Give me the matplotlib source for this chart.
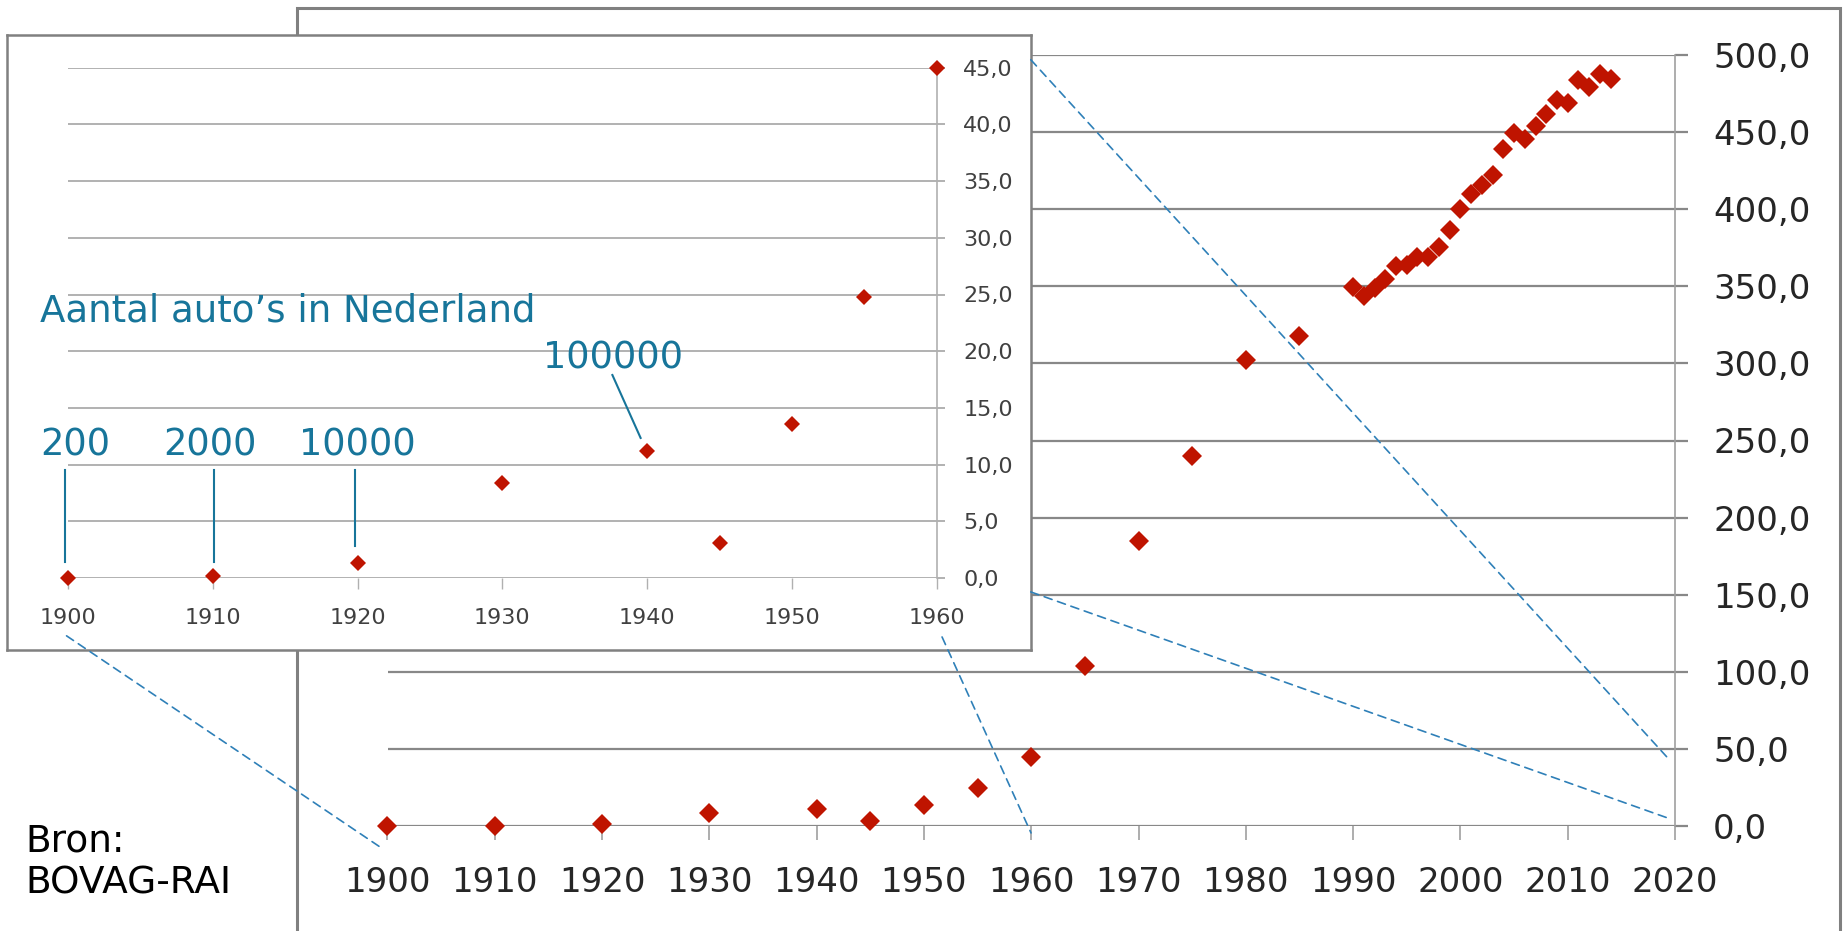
import matplotlib
matplotlib.use("Agg")
import matplotlib.pyplot as plt
from matplotlib.patches import Rectangle, ConnectionPatch

# ---------------- data (x 10 000 auto's) ----------------
years_hist = [1900, 1910, 1920, 1930, 1940, 1945, 1950, 1955, 1960,
              1965, 1970, 1975, 1980, 1985]
cars_hist = [0.02, 0.2, 1.3, 8.4, 11.2, 3.1, 13.6, 24.8, 45.0,
             103.5, 185.0, 240.0, 302.0, 318.0]
years_recent = list(range(1990, 2015))
cars_recent = [349.6, 344.0, 349.0, 355.0, 363.0, 363.7, 369.0, 368.7, 375.7,
               386.5, 400.0, 410.0, 416.0, 422.0, 439.0, 449.6, 445.6, 454.0,
               461.5, 471.0, 469.0, 484.0, 479.0, 487.8, 484.5]

main_xticks = list(range(1900, 2021, 10))
main_yticks = list(range(0, 501, 50))
inset_xticks = [1900, 1910, 1920, 1930, 1940, 1950, 1960]
inset_yticks = list(range(0, 46, 5))

title_text = "Aantal auto\u2019s in Nederland"
note_labels = ["200", "2000", "10000", "100000"]
source_text = "Bron:\nBOVAG-RAI"

# ---------------- style ----------------
W, H = 1845, 931
RED = "#BF1400"
TEAL = "#17759A"
GRID = "#888888"
DASH = "#2F80B8"
plt.rcParams["font.family"] = ["DejaVu Sans"]


def fx(px):
    return px / W


def fy(py):
    return 1 - py / H


def fmt(v):
    return f"{v:.1f}".replace(".", ",")


fig = plt.figure(figsize=(W / 100, H / 100), dpi=100)

# outer frame of the main chart (bottom edge off-canvas)
fig.add_artist(Rectangle((fx(297), -0.05), fx(1840) - fx(297), fy(8) + 0.05,
                         transform=fig.transFigure, fill=False,
                         ec="#808080", lw=2.2, zorder=0))

# ---------------- main chart ----------------
ax = fig.add_axes([fx(387.5), fy(826), fx(1675) - fx(387.5), fy(55) - fy(826)])
ax.set_zorder(1)
ax.set_facecolor("none")
ax.set_xlim(1900, 2020)
ax.set_ylim(0, 500)
all_years = years_hist + years_recent
all_cars = cars_hist + cars_recent
ax.plot(all_years, all_cars, linestyle="none", marker="D", ms=10.6,
        color=RED, mec=RED, mew=0, clip_on=False, zorder=3)
ax.set_xticks(main_xticks)
ax.set_xticklabels([str(y) for y in main_xticks])
ax.set_yticks(main_yticks)
ax.set_yticklabels([fmt(v) for v in main_yticks])
ax.yaxis.tick_right()
ax.yaxis.grid(True, color=GRID, lw=1.6)
ax.set_axisbelow(True)
for s in ["left", "top", "bottom"]:
    ax.spines[s].set_visible(False)
ax.spines["right"].set_color("#a0a0a0")
ax.spines["right"].set_linewidth(1.2)
ax.tick_params(axis="x", direction="out", length=10, width=1.2, color="#a0a0a0",
               pad=19, labelsize=24.5, labelcolor="#262626")
ax.tick_params(axis="y", direction="out", length=9.5, width=1.6, color=GRID,
               pad=18, labelsize=24.5, labelcolor="#262626")

# ---------------- inset ----------------
axf = fig.add_axes([fx(7), fy(650), fx(1031) - fx(7), fy(35) - fy(650)])
axf.set_zorder(2)
axf.set_facecolor("white")
axf.set_xticks([])
axf.set_yticks([])
for s in axf.spines.values():
    s.set_color("#808080")
    s.set_linewidth(1.8)

axi = fig.add_axes([fx(68), fy(578), fx(936.7) - fx(68), fy(67.7) - fy(578)])
axi.set_zorder(3)
axi.set_facecolor("none")
axi.set_xlim(1900, 1960)
axi.set_ylim(0, 45)
in_years = [y for y in years_hist if y <= 1960]
in_cars = [c for y, c in zip(years_hist, cars_hist) if y <= 1960]
axi.plot(in_years, in_cars, linestyle="none", marker="D", ms=8.0,
         color=RED, mew=0, clip_on=False, zorder=3)
axi.set_xticks(inset_xticks)
axi.set_xticklabels([str(y) for y in inset_xticks])
axi.set_yticks(inset_yticks)
axi.set_yticklabels([fmt(v) for v in inset_yticks])
axi.yaxis.tick_right()
axi.yaxis.grid(True, color="#ababab", lw=1.3)
axi.set_axisbelow(True)
for s in ["left", "top", "bottom"]:
    axi.spines[s].set_visible(False)
axi.spines["right"].set_color("#b0b0b0")
axi.spines["right"].set_linewidth(1.2)
axi.tick_params(axis="x", direction="out", length=8, width=1.0, color="#b0b0b0",
                pad=13.5, labelsize=16, labelcolor="#404040")
axi.tick_params(axis="y", direction="out", length=6, width=1.3, color="#ababab",
                pad=13, labelsize=16, labelcolor="#404040")

# annotations inside the inset
axi.text(1898.07, 22.6, title_text, color=TEAL, fontsize=26.7,
         ha="left", va="baseline", zorder=5)
note_pos = [(1898.07, 10.8), (1906.6, 10.8), (1915.93, 10.8), (1932.8, 18.5)]
for lab, (xx, yy) in zip(note_labels, note_pos):
    axi.text(xx, yy, lab, color=TEAL, fontsize=26.5, ha="left", va="baseline",
             zorder=5)
leaders = [((1899.8, 9.52), (1899.8, 1.41)),
           ((1910.05, 9.52), (1910.05, 1.41)),
           ((1919.81, 9.52), (1919.81, 2.82)),
           ((1937.6, 17.9), (1939.55, 12.35))]
for (x0, y0), (x1, y1) in leaders:
    axi.plot([x0, x1], [y0, y1], color=TEAL, lw=1.5, clip_on=False, zorder=4)

# dashed zoom connectors
connectors = [((1899.9, -5.1), (1899.6, -15.0)),
              ((1960.37, -5.2), (1959.98, -4.5)),
              ((1966.5, -1.23), (2019.6, 4.5)),
              ((1966.5, 45.7), (2019.5, 42.8))]
for a, b in connectors:
    con = ConnectionPatch(xyA=a, xyB=b, coordsA=axi.transData,
                          coordsB=ax.transData, color=DASH, lw=1.2,
                          linestyle=(0, (5, 3.5)), zorder=10)
    fig.add_artist(con)

# source
fig.text(fx(25), fy(894), source_text, fontsize=27, color="black",
         ha="left", va="baseline", linespacing=1.22)

fig.savefig("out.png", dpi=100)
